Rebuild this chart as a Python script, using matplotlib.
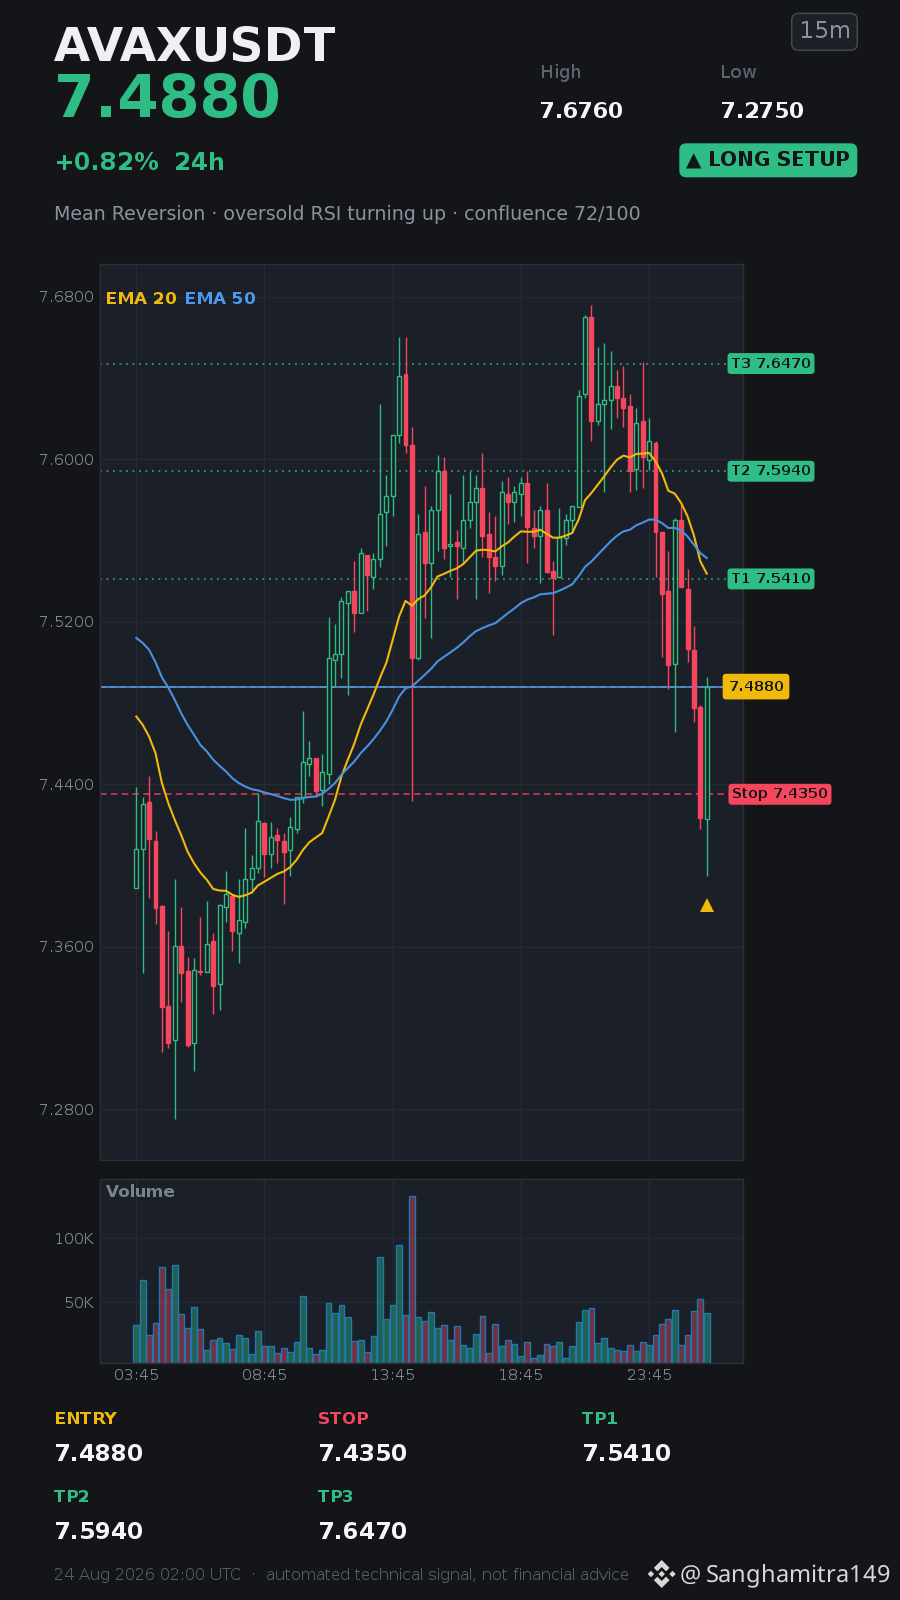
import matplotlib
matplotlib.use("Agg")
import matplotlib.pyplot as plt
from matplotlib.patches import FancyBboxPatch, Polygon
from matplotlib.transforms import blended_transform_factory
from matplotlib.colors import to_rgba

plt.rcParams['font.family'] = ['DejaVu Sans']
plt.rcParams['text.hinting'] = 'native'
plt.rcParams['text.hinting_factor'] = 1

symbol = "AVAXUSDT"
last_price = "7.4880"
change_text = "+0.82%  24h"
timeframe = "15m"
high_text = "7.6760"
low_text = "7.2750"
badge_text = "\u25b2 LONG SETUP"
subtitle = "Mean Reversion \u00b7 oversold RSI turning up \u00b7 confluence 72/100"
footer = "24 Aug 2026 02:00 UTC  \u00b7  automated technical signal, not financial advice"
watermark = "Sanghamitra149"

opens = [7.3888,7.4080,7.4311,7.4119,7.3799,7.3307,7.3139,7.3605,7.3479,7.3128,
         7.3479,7.3477,7.3627,7.3418,7.3797,7.3847,7.3669,7.3719,7.3935,7.3989,
         7.4208,7.4058,7.4150,7.4119,7.4078,7.4177,7.4339,7.4498,7.4528,7.4369,
         7.4449,7.5010,7.5040,7.5291,7.5350,7.5240,7.5527,7.5417,7.5508,7.5739,
         7.5818,7.6118,7.6418,7.6069,7.5019,7.5641,7.5486,7.5749,7.5941,7.5570,
         7.5591,7.5560,7.5700,7.5788,7.5857,7.5631,7.5517,7.5476,7.5828,7.5787,
         7.5828,7.5882,7.5661,7.5619,7.5749,7.5449,7.5418,7.5610,7.5700,7.5766,
         7.6320,7.6699,7.6186,7.6269,7.6289,7.6360,7.6301,7.6261,7.5949,7.6187,
         7.5997,7.6079,7.5642,7.5350,7.4989,7.5701,7.5359,7.5061,7.4780,7.4227]
closes = [7.4080,7.4301,7.4129,7.3788,7.3305,7.3128,7.3605,7.3468,7.3118,7.3487,
          7.3477,7.3615,7.3408,7.3807,7.3857,7.3679,7.3729,7.3935,7.3989,7.4218,
          7.4058,7.4139,7.4127,7.4068,7.4188,7.4339,7.4508,7.4528,7.4367,7.4459,
          7.5020,7.5040,7.5301,7.5350,7.5240,7.5537,7.5427,7.5508,7.5729,7.5818,
          7.6118,7.6409,7.6067,7.5019,7.5631,7.5486,7.5749,7.5941,7.5560,7.5581,
          7.5570,7.5700,7.5788,7.5857,7.5619,7.5516,7.5476,7.5837,7.5787,7.5837,
          7.5882,7.5667,7.5619,7.5749,7.5446,7.5416,7.5615,7.5700,7.5769,7.6310,
          7.6699,7.6186,7.6269,7.6289,7.6360,7.6299,7.6250,7.5940,7.6178,7.6008,
          7.6089,7.5641,7.5338,7.4987,7.5699,7.5368,7.5067,7.4777,7.4235,7.4880]
highs = [7.4388,7.4339,7.4438,7.4167,7.3806,7.3679,7.3935,7.3797,7.3548,7.3546,
         7.3748,7.3827,7.3669,7.3809,7.3970,7.3855,7.3935,7.4186,7.4049,7.4355,
         7.4216,7.4216,7.4186,7.4157,7.4236,7.4339,7.4758,7.4610,7.4528,7.4547,
         7.5225,7.5188,7.5319,7.5352,7.5496,7.5562,7.5529,7.5536,7.6269,7.5920,
         7.6118,7.6601,7.6601,7.6156,7.5728,7.5865,7.5767,7.6018,7.6008,7.5826,
         7.5650,7.5920,7.5939,7.5920,7.6028,7.5737,7.5718,7.5890,7.5910,7.5865,
         7.5910,7.5940,7.5748,7.5767,7.5880,7.5496,7.5757,7.5729,7.5769,7.6338,
         7.6709,7.6757,7.6550,7.6570,7.6530,7.6438,7.6457,7.6319,7.6250,7.6478,
         7.6200,7.6089,7.5642,7.5545,7.5709,7.5780,7.5458,7.5176,7.4787,7.4929]
lows = [7.3888,7.3469,7.3838,7.3710,7.3082,7.3100,7.2750,7.3330,7.3108,7.2988,
        7.3459,7.3477,7.3267,7.3287,7.3720,7.3578,7.3518,7.3691,7.3863,7.3962,
        7.3945,7.3989,7.4011,7.3809,7.3947,7.4157,7.4306,7.4438,7.4339,7.4293,
        7.4400,7.4881,7.4922,7.4840,7.5148,7.5240,7.5250,7.5360,7.5468,7.5572,
        7.5719,7.6079,7.6030,7.4318,7.5009,7.5217,7.5119,7.5545,7.5508,7.5417,
        7.5311,7.5491,7.5659,7.5311,7.5517,7.5340,7.5399,7.5429,7.5680,7.5690,
        7.5718,7.5488,7.5562,7.5390,7.5439,7.5136,7.5418,7.5578,7.5636,7.5766,
        7.6301,7.6087,7.6166,7.5838,7.6148,7.6200,7.6158,7.5838,7.5846,7.5856,
        7.5948,7.5419,7.5028,7.4867,7.4659,7.5368,7.5000,7.4708,7.4178,7.3946]
ema20 = [7.4733,7.4692,7.4634,7.4552,7.4405,7.4306,7.4224,7.4150,7.4068,7.4011,
         7.3965,7.3929,7.3884,7.3876,7.3875,7.3855,7.3845,7.3853,7.3866,7.3902,
         7.3920,7.3939,7.3958,7.3970,7.3991,7.4027,7.4076,7.4114,7.4137,7.4159,
         7.4240,7.4323,7.4438,7.4520,7.4598,7.4692,7.4766,7.4840,7.4922,7.4996,
         7.5110,7.5225,7.5302,7.5278,7.5311,7.5329,7.5370,7.5422,7.5435,7.5450,
         7.5462,7.5483,7.5516,7.5549,7.5554,7.5552,7.5545,7.5570,7.5590,7.5619,
         7.5644,7.5642,7.5642,7.5652,7.5633,7.5613,7.5613,7.5623,7.5636,7.5702,
         7.5797,7.5833,7.5874,7.5915,7.5959,7.5997,7.6017,7.6008,7.6025,7.6027,
         7.6030,7.5989,7.5931,7.5844,7.5830,7.5784,7.5718,7.5623,7.5496,7.5436]
ema50 = [7.5120,7.5095,7.5061,7.5000,7.4925,7.4875,7.4815,7.4749,7.4692,7.4643,
         7.4593,7.4561,7.4520,7.4490,7.4462,7.4429,7.4405,7.4388,7.4375,7.4369,
         7.4359,7.4351,7.4342,7.4331,7.4323,7.4324,7.4331,7.4337,7.4339,7.4352,
         7.4377,7.4405,7.4446,7.4479,7.4511,7.4552,7.4585,7.4621,7.4662,7.4708,
         7.4766,7.4831,7.4872,7.4881,7.4909,7.4938,7.4968,7.5004,7.5027,7.5048,
         7.5071,7.5097,7.5127,7.5153,7.5168,7.5181,7.5192,7.5217,7.5242,7.5265,
         7.5291,7.5308,7.5319,7.5334,7.5337,7.5340,7.5352,7.5367,7.5383,7.5423,
         7.5469,7.5496,7.5529,7.5562,7.5595,7.5623,7.5644,7.5652,7.5674,7.5687,
         7.5702,7.5702,7.5685,7.5661,7.5661,7.5649,7.5619,7.5578,7.5537,7.5513]
volumes_k = [32.0,67.2,24.2,33.6,77.3,60.1,78.9,40.6,29.7,46.1,
             28.9,12.5,20.3,21.8,18.0,13.3,24.2,21.8,9.4,27.3,
             15.6,15.6,10.1,14.0,10.9,18.7,54.7,14.0,9.4,12.5,
             49.2,41.4,47.6,38.3,19.5,20.3,10.9,23.4,85.1,36.7,
             47.6,94.5,39.8,132.8,38.3,35.1,42.2,29.7,32.0,20.3,
             31.2,16.4,14.0,25.0,39.0,10.1,32.8,15.6,20.3,17.2,
             7.8,18.7,6.2,8.6,17.2,15.6,18.7,6.2,15.6,34.3,
             43.7,45.3,18.0,21.8,14.0,12.5,11.7,16.4,11.7,18.7,
             16.4,24.2,32.8,36.7,43.7,16.4,24.2,42.9,52.3,41.4]
price_ticks = [7.28, 7.36, 7.44, 7.52, 7.60, 7.68]
time_positions = [0, 20, 40, 60, 80]
time_labels = ["03:45", "08:45", "13:45", "18:45", "23:45"]
volume_ticks = [50000, 100000]
volume_tick_labels = ["50K", "100K"]
entry_level = 7.4880
stop_level = 7.4350
target_names = ["T1", "T2", "T3"]
target_levels = [7.5410, 7.5940, 7.6470]
signal_marker_price = 7.3805
stat_labels = ["ENTRY", "STOP", "TP1", "TP2", "TP3"]
stat_values = ["7.4880", "7.4350", "7.5410", "7.5940", "7.6470"]

BG = "#131519"; PANEL = "#1b1f27"; GRID = "#262a33"; SPINE = "#2b2f38"
GREEN = "#2ebd85"; RED = "#f6465d"; YELLOW = "#f0b90b"; BLUE = "#4a90e2"
MUTED = "#8a929e"; DIM = "#5c6370"; WHITE = "#f5f6f8"

W, H = 900, 1600
fig = plt.figure(figsize=(W / 100, H / 100), dpi=100, facecolor=BG)

def rect(l, t, r, b):
    return [l / W, 1 - b / H, (r - l) / W, (b - t) / H]

ax = fig.add_axes(rect(100, 264, 743.2, 1160), facecolor=PANEL)
axv = fig.add_axes(rect(100, 1179, 743.2, 1363.3), facecolor=PANEL, sharex=ax)
ov = fig.add_axes([0, 0, 1, 1], facecolor="none", zorder=5)
ov.set_xlim(0, W); ov.set_ylim(H, 0); ov.axis("off")

def txt(x, y, s, **kw):
    kw.setdefault("va", "baseline")
    return ov.text(x, y, s, **kw)

x = list(range(len(opens)))
up = [c >= o for o, c in zip(opens, closes)]

for a in (ax, axv):
    a.set_axisbelow(True)
    a.grid(True, color=GRID, lw=1.0)
    for s in a.spines.values():
        s.set_color(SPINE); s.set_linewidth(1.0)
    a.tick_params(length=0, labelsize=11, labelcolor="#7f8793", pad=4)

ax.set_xlim(-5.66, 94.68)
ax.set_ylim(7.255, 7.696)
ax.set_yticks(price_ticks)
ax.set_yticklabels([f"{t:.4f}" for t in price_ticks])
ax.tick_params(labelbottom=False)

# levels
for lv in target_levels:
    ax.axhline(lv, color=GREEN, lw=1.3, ls=(0, (1, 2.6)), alpha=0.8, zorder=1.5)
ax.axhline(stop_level, color=RED, lw=1.3, ls=(0, (3.6, 2.4)), alpha=0.75, zorder=1.5)
ax.axhline(entry_level, color=YELLOW, lw=1.2, ls=(0, (3.6, 2.4)), alpha=0.7, zorder=1.5)
ax.axhline(entry_level, color=BLUE, lw=1.2, zorder=1.6)

# candles
for i in x:
    col = GREEN if up[i] else RED
    ax.vlines(i, lows[i], highs[i], color=col, lw=1.0, zorder=2 + i * 0.001)
    bottom = min(opens[i], closes[i])
    height = abs(closes[i] - opens[i])
    ax.bar(i, height, bottom=bottom, width=0.62,
           facecolor=PANEL if up[i] else col, edgecolor=col, linewidth=1.0,
           zorder=2.0005 + i * 0.001)

ax.plot(x, ema20, color=YELLOW, lw=1.5, zorder=3)
ax.plot(x, ema50, color=BLUE, lw=1.5, zorder=3.1)
ax.plot([x[-1]], [signal_marker_price], marker="^", ms=9.5, color=YELLOW, mew=0, ls="none", zorder=4)

# price labels to the right (in pixel x, data y)
trans = blended_transform_factory(ov.transData, ax.transData)
for name, lv in zip(target_names, target_levels):
    ax.text(771, lv, f"{name} {lv:.4f}", transform=trans, ha="center", va="center",
            fontsize=10, fontweight="bold", color=BG, clip_on=False, zorder=6,
            bbox=dict(boxstyle="round,pad=0.25,rounding_size=0.25", fc=GREEN, ec="none"))
ax.text(780, stop_level, f"Stop {stop_level:.4f}", transform=trans, ha="center", va="center",
        fontsize=10, fontweight="bold", color=BG, clip_on=False, zorder=6,
        bbox=dict(boxstyle="round,pad=0.25,rounding_size=0.25", fc=RED, ec="none"))
ax.text(756, entry_level, f"{entry_level:.4f}", transform=trans, ha="center", va="center",
        fontsize=10, fontweight="bold", color=BG, clip_on=False, zorder=6,
        bbox=dict(boxstyle="round,pad=0.42,rounding_size=0.25", fc=YELLOW, ec="none"))

txt(105, 304, "EMA 20", fontsize=12, fontweight="bold", color=YELLOW)
txt(184.5, 304, "EMA 50", fontsize=12, fontweight="bold", color="#4a9af0")

# volume
vol = [v * 1000 for v in volumes_k]
cols = [to_rgba(GREEN if u else RED, 0.42) for u in up]
axv.bar(x, vol, width=0.9, color=cols, edgecolor="#1f77b4", linewidth=1.0, zorder=2)
axv.set_ylim(2300, 146300)
axv.set_yticks(volume_ticks)
axv.set_yticklabels(volume_tick_labels)
axv.set_xticks(time_positions)
axv.set_xticklabels(time_labels)
txt(105, 1197, "Volume", fontsize=12.3, fontweight="bold", color="#7a828e")

# header
txt(54, 61, symbol, fontsize=33.5, fontweight="bold", color="#eef0f3")
txt(54, 117, last_price, fontsize=42.8, fontweight="bold", color=GREEN)
txt(54, 169.5, change_text, fontsize=17, fontweight="bold", color=GREEN)

sub = txt(54, 219.5, subtitle, fontsize=13.7, color=MUTED)
_sub_draw = sub.draw
def _draw_sub(renderer):
    with matplotlib.rc_context({'text.hinting': 'force_autohint', 'text.hinting_factor': 8}):
        return _sub_draw(renderer)
sub.draw = _draw_sub

txt(540, 78.5, "High", fontsize=13, color=DIM)
txt(720, 78.5, "Low", fontsize=13, color=DIM)
txt(540, 118, high_text, fontsize=15.5, fontweight="bold", color=WHITE)
txt(720.5, 118, low_text, fontsize=15.5, fontweight="bold", color=WHITE)

ov.add_patch(FancyBboxPatch((793.7, 15.3), 61.6, 33, boxstyle="round,pad=2,rounding_size=7",
                            fc="#1c2027", ec="#434853", lw=1.1))
txt(824.5, 31.5, timeframe, fontsize=16.5, color=MUTED, ha="center", va="center")
ov.add_patch(FancyBboxPatch((681.3, 145.3), 174, 30, boxstyle="round,pad=2,rounding_size=7",
                            fc=GREEN, ec="none"))
txt(686, 166, badge_text, fontsize=14.5, fontweight="bold", color=BG)

# stats
positions = [(54, 1424.5, 1461), (318, 1424.5, 1461), (582, 1424.5, 1461),
             (54, 1501.5, 1539), (318, 1501.5, 1539)]
stat_colors = [YELLOW, RED, GREEN, GREEN, GREEN]
for (px, ly, vy), lab, val, c in zip(positions, stat_labels, stat_values, stat_colors):
    txt(px, ly, lab, fontsize=12, fontweight="bold", color=c)
    txt(px, vy, val, fontsize=16.5, fontweight="bold", color=WHITE)

# footer
txt(54, 1580, footer, fontsize=11.5, color="#565c68")
logo_c = "#d8d8d8"
cx, cy, s = 661.7, 1574, 14
def poly(pts):
    ov.add_patch(Polygon([(cx + a * s, cy + b * s) for a, b in pts], closed=True, fc=logo_c, ec="none"))
d = 0.23
for ox in (-0.77, 0, 0.77):
    poly([(ox - d, 0), (ox, -d), (ox + d, 0), (ox, d)])
poly([(0, -1), (0.56, -0.44), (0.31, -0.19), (0, -0.5), (-0.31, -0.19), (-0.56, -0.44)])
poly([(0, 1), (0.56, 0.44), (0.31, 0.19), (0, 0.5), (-0.31, 0.19), (-0.56, 0.44)])
txt(680, 1582, "@", fontsize=17, color=logo_c, family="Noto Sans")
txt(706, 1582, watermark, fontsize=17, color=logo_c, family="Noto Sans")

fig.savefig("out.png", dpi=100, facecolor=BG)
